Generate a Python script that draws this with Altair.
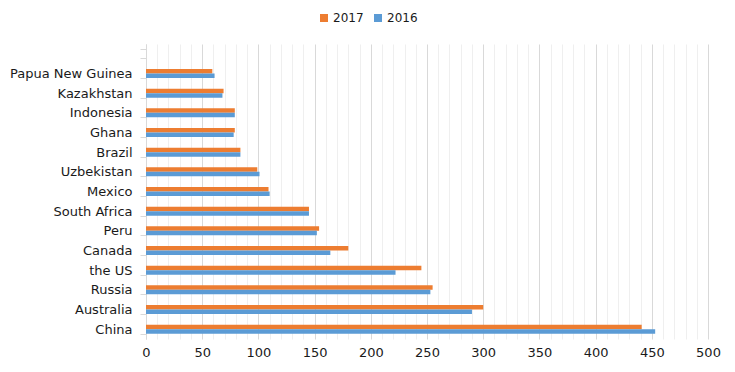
import altair as alt
import pandas as pd

countries = ["Papua New Guinea", "Kazakhstan", "Indonesia", "Ghana", "Brazil",
             "Uzbekistan", "Mexico", "South Africa", "Peru", "Canada",
             "the US", "Russia", "Australia", "China"]
v2017 = [59, 69, 79, 79, 84, 99, 109, 145, 154, 180, 245, 255, 300, 441]
v2016 = [61, 68, 79, 78, 84, 101, 110, 145, 152, 164, 222, 253, 290, 453]
years = ["2017", "2016"]
colors = ["#ED7D31", "#5B9BD5"]
x_ticks = list(range(0, 501, 10))

rows = []
for c, a, b in zip(countries, v2017, v2016):
    rows.append({"country": c, "year": "2017", "value": a})
    rows.append({"country": c, "year": "2016", "value": b})
df = pd.DataFrame(rows)

y_domain = [" "] + countries

chart = alt.Chart(df).mark_bar().encode(
    x=alt.X("value:Q",
            scale=alt.Scale(domain=[0, 500], nice=False),
            axis=alt.Axis(values=x_ticks, title=None, labelFlush=False,
                          labelExpr="datum.value % 50 === 0 ? datum.label : ''",
                          gridColor={"condition": {"test": "datum.value % 50 === 0", "value": "#d9d9d9"},
                                     "value": "#efefef"},
                          ticks=False, domain=False, labelFontSize=13,
                          labelColor="#1a1a1a", labelPadding=7)),
    y=alt.Y("country:N",
            scale=alt.Scale(domain=y_domain, paddingInner=0.54, paddingOuter=0.27),
            axis=alt.Axis(title=None, tickBand="extent", grid=False,
                          domainColor="#d9d9d9", tickColor="#d9d9d9", tickSize=6,
                          labelPadding=8, labelFontSize=13, labelColor="#1a1a1a")),
    yOffset=alt.YOffset("year:N", scale=alt.Scale(domain=years)),
    color=alt.Color("year:N",
                    scale=alt.Scale(domain=years, range=colors),
                    legend=alt.Legend(title=None, orient="none", legendX=172, legendY=-32,
                                      direction="horizontal", symbolType="square",
                                      symbolSize=64, symbolStrokeWidth=0,
                                      labelFontSize=12, labelColor="#1a1a1a",
                                      labelOffset=3, columnPadding=8)),
).properties(
    width=562, height=295,
    padding={"left": 138, "top": 36, "right": 17, "bottom": 24},
    autosize=alt.AutoSizeParams(type="none"),
).configure(font="DejaVu Sans").configure_view(stroke=None)

chart.save("out.html", embed_options={"renderer": "svg", "actions": False})
